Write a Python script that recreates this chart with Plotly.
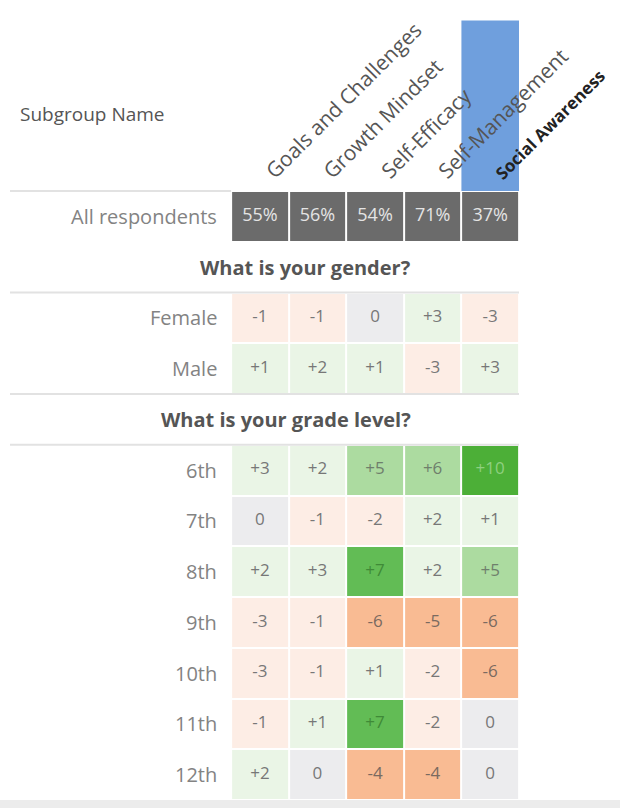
import plotly.graph_objects as go

# ---------------- data ----------------
columns = ["Goals and Challenges", "Growth Mindset", "Self-Efficacy",
           "Self-Management", "Social Awareness"]
highlight_column = "Social Awareness"
header_label = "Subgroup Name"

all_label = "All respondents"
all_values = [55, 56, 54, 71, 37]

gender_question = "What is your gender?"
gender_groups = ["Female", "Male"]
gender_values = [
    [-1, -1, 0, 3, -3],
    [1, 2, 1, -3, 3],
]

grade_question = "What is your grade level?"
grade_groups = ["6th", "7th", "8th", "9th", "10th", "11th", "12th"]
grade_values = [
    [3, 2, 5, 6, 10],
    [0, -1, -2, 2, 1],
    [2, 3, 7, 2, 5],
    [-3, -1, -6, -5, -6],
    [-3, -1, 1, -2, -6],
    [-1, 1, 7, -2, 0],
    [2, 0, -4, -4, 0],
]

# ---------------- styling ----------------
FONT = "Open Sans"
bin_colors = ["#f9bb93", "#fdede5", "#ececee", "#eaf5e6", "#acdba0", "#62bc55", "#4caf37"]
bin_text = ["#7a6a60", "#777777", "#777777", "#777777", "#6f7f6c", "#3f8a37", "#8fd080"]


def bin_of(v):
    if v <= -4:
        return 0
    if v < 0:
        return 1
    if v == 0:
        return 2
    if v <= 3:
        return 3
    if v <= 6:
        return 4
    if v <= 7:
        return 5
    return 6


def fmt(v):
    return "0" if v == 0 else f"{v:+d}"


# row layout: sequence of (kind, label, values)
rows = [("all", all_label, all_values), ("q", gender_question, None)]
rows += [("d", g, v) for g, v in zip(gender_groups, gender_values)]
rows += [("q", grade_question, None)]
rows += [("d", g, v) for g, v in zip(grade_groups, grade_values)]
n_rows = len(rows)
n_cols = len(columns)
xs = list(range(n_cols))
ys = list(range(n_rows))

z_diff, z_all = [], []
tx, ty, tt, tc = [], [], [], []
for i, (kind, label, vals) in enumerate(rows):
    if kind == "d":
        z_diff.append([bin_of(v) for v in vals])
        z_all.append([None] * n_cols)
        for j, v in enumerate(vals):
            tx.append(j); ty.append(i); tt.append(fmt(v)); tc.append(bin_text[bin_of(v)])
    elif kind == "all":
        z_diff.append([None] * n_cols)
        z_all.append([1] * n_cols)
    else:
        z_diff.append([None] * n_cols)
        z_all.append([None] * n_cols)

cs = []
nb = len(bin_colors)
for k, c in enumerate(bin_colors):
    cs.append([k / nb, c])
    cs.append([(k + 1) / nb, c])

fig = go.Figure()
fig.add_trace(go.Heatmap(x=xs, y=ys, z=z_diff, colorscale=cs, zmin=-0.5, zmax=nb - 0.5,
                         showscale=False, xgap=2, ygap=2, hoverinfo="skip"))
fig.add_trace(go.Heatmap(x=xs, y=ys, z=z_all, colorscale=[[0, "#6b6b6b"], [1, "#6b6b6b"]],
                         showscale=False, xgap=2, ygap=2, hoverinfo="skip"))
fig.add_trace(go.Scatter(x=tx, y=ty, text=tt, mode="text",
                         textfont=dict(family=FONT, size=17, color=tc),
                         hoverinfo="skip", showlegend=False))
all_row = [i for i, r in enumerate(rows) if r[0] == "all"][0]
fig.add_trace(go.Scatter(x=xs, y=[all_row] * n_cols, text=[f"{v}%" for v in all_values],
                         mode="text", textfont=dict(family=FONT, size=18, color="#e4e4e4"),
                         hoverinfo="skip", showlegend=False))

annotations = []
shapes = []
line_col = "#e2e2e2"

# highlight column bar
hc = columns.index(highlight_column)
shapes.append(dict(type="rect", xref="x", yref="paper", x0=hc - 0.5, x1=hc + 0.5,
                   y0=1.0, y1=1.28, fillcolor="#6f9fdd", line=dict(width=0), layer="below"))

# column headers
for j, c in enumerate(columns):
    bold = c == highlight_column
    annotations.append(dict(x=j - 0.05, y=1, xref="x", yref="paper", text=f"<b>{c}</b>" if bold else c,
                            textangle=-45, xanchor="left", yanchor="bottom", showarrow=False,
                            yshift=4,
                            font=dict(family=FONT, size=17 if bold else 21,
                                      color="#222222" if bold else "#555555")))

annotations.append(dict(x=0, y=1.127, xref="paper", yref="paper", text=header_label,
                        xanchor="left", yanchor="middle", showarrow=False, xshift=8,
                        font=dict(family=FONT, size=19, color="#555555")))

# top line under header label
shapes.append(dict(type="line", xref="x", yref="paper", x0=-4.34, x1=-0.5, y0=1, y1=1,
                   line=dict(color=line_col, width=2)))

for i, (kind, label, vals) in enumerate(rows):
    if kind == "q":
        annotations.append(dict(x=2.66, y=i, xref="x", yref="y", text=f"<b>{label}</b>",
                                xanchor="right", yanchor="middle", showarrow=False,
                                font=dict(family=FONT, size=20, color="#555555")))
        if i > 0 and rows[i - 1][0] == "d":
            shapes.append(dict(type="line", xref="paper", yref="y", x0=0, x1=1, y0=i - 0.5, y1=i - 0.5,
                               line=dict(color=line_col, width=2)))
        shapes.append(dict(type="line", xref="paper", yref="y", x0=0, x1=1, y0=i + 0.5, y1=i + 0.5,
                           line=dict(color=line_col, width=2)))
    else:
        annotations.append(dict(x=-0.5, y=i, xref="x", yref="y", text=label,
                                xanchor="right", yanchor="middle", showarrow=False, xshift=-12,
                                font=dict(family=FONT, size=20, color="#838383")))

# bottom shadow
shapes.append(dict(type="rect", xref="paper", yref="paper", x0=-0.03, x1=1.2, y0=-0.014, y1=0,
                   fillcolor="#ececec", line=dict(width=0)))

fig.update_layout(
    width=620, height=808,
    margin=dict(l=10, r=101, t=191, b=8),
    paper_bgcolor="white", plot_bgcolor="white",
    xaxis=dict(range=[-4.34, 4.5], visible=False, fixedrange=True),
    yaxis=dict(range=[n_rows - 0.5, -0.5], visible=False, fixedrange=True),
    annotations=annotations, shapes=shapes, showlegend=False,
)

fig.write_html("out.html", config={"displayModeBar": False},
               post_script="document.body.style.margin='0';")
